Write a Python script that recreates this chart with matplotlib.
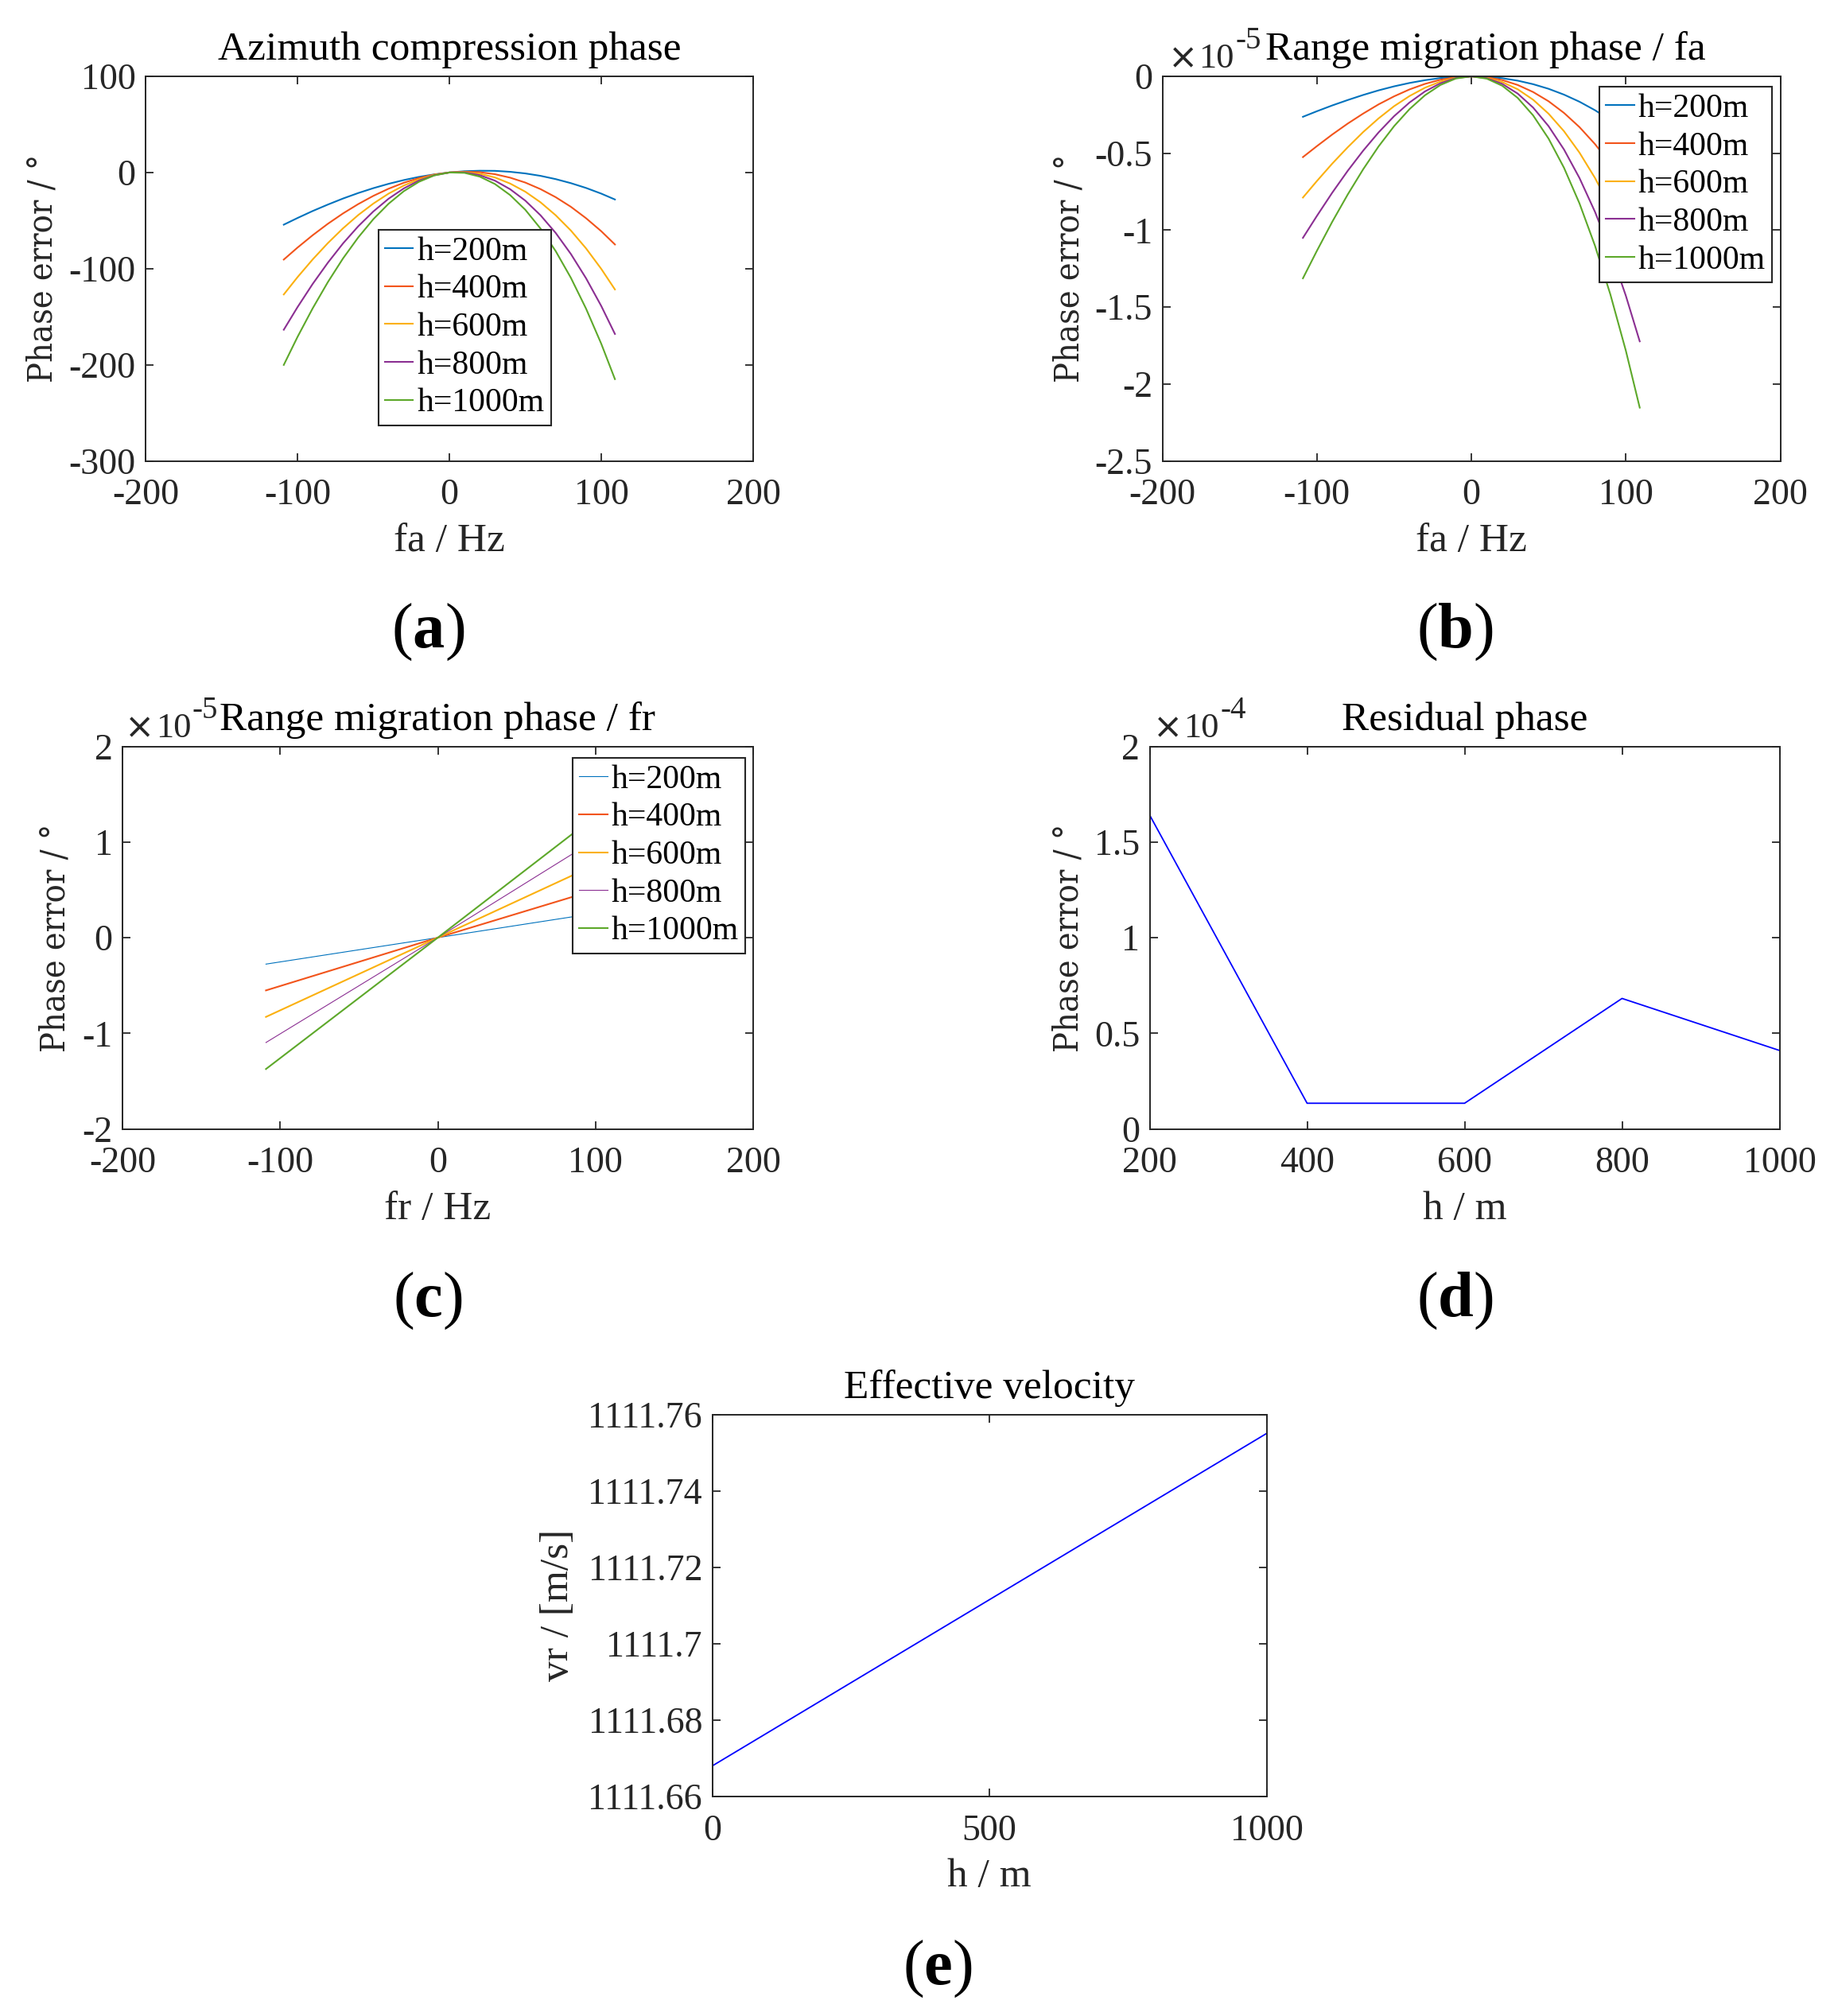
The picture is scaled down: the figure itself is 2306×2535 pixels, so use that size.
import matplotlib
matplotlib.use('Agg')
import matplotlib.pyplot as plt
from matplotlib.ticker import FuncFormatter
from matplotlib.text import Annotation
from matplotlib import font_manager

# ---------------- data ----------------
heights = ['h=200m', 'h=400m', 'h=600m', 'h=800m', 'h=1000m']
colors = ['#0072BD', '#F2541B', '#FBB00E', '#8B2F92', '#5DA82A']

fa = [-109, -100, -90, -80, -70, -60, -50, -40, -30, -20, -10, 0,
      10, 20, 30, 40, 50, 60, 70, 80, 90, 100, 109]

# (a) azimuth compression phase error (deg)
az_200 = [-54.3, -47.4, -40.1, -33.4, -27.1, -21.4, -16.3, -11.8, -7.9, -4.6, -2.0, 0.0,
          1.3, 1.8, 1.7, 0.7, -1.0, -3.5, -6.9, -11.1, -16.1, -22.0, -28.1]
az_400 = [-90.6, -78.2, -65.3, -53.4, -42.6, -32.9, -24.3, -16.9, -10.7, -5.8, -2.2, 0.0,
          0.8, 0.3, -1.8, -5.4, -10.5, -17.3, -25.7, -35.7, -47.6, -61.1, -74.9]
az_600 = [-126.9, -109.0, -90.5, -73.5, -58.1, -44.3, -32.3, -22.0, -13.6, -7.1, -2.5, 0.0,
          0.4, -1.3, -5.2, -11.5, -20.0, -31.0, -44.5, -60.4, -79.0, -100.3, -121.7]
az_800 = [-163.6, -140.2, -116.0, -93.9, -73.8, -56.0, -40.5, -27.3, -16.6, -8.4, -2.9, 0.0,
          0.1, -2.8, -8.5, -17.4, -29.3, -44.5, -62.9, -84.8, -110.1, -138.9, -168.0]
az_1000 = [-200.2, -171.2, -141.4, -114.1, -89.4, -67.6, -48.5, -32.5, -19.5, -9.7, -3.1, 0.0,
           -0.4, -4.3, -12.0, -23.5, -38.8, -58.3, -81.8, -109.6, -141.7, -178.2, -215.0]

# (b) range migration phase vs fa (x1e-5 deg)
rm_200 = [-0.263, -0.227, -0.189, -0.154, -0.121, -0.091, -0.065, -0.043, -0.025, -0.011, -0.003, 0.0,
          -0.003, -0.012, -0.028, -0.051, -0.081, -0.119, -0.165, -0.220, -0.284, -0.357, -0.431]
rm_400 = [-0.525, -0.454, -0.378, -0.307, -0.242, -0.182, -0.130, -0.085, -0.049, -0.022, -0.006, 0.0,
          -0.006, -0.024, -0.056, -0.102, -0.162, -0.238, -0.330, -0.440, -0.567, -0.713, -0.862]
rm_600 = [-0.788, -0.681, -0.567, -0.461, -0.362, -0.273, -0.194, -0.128, -0.074, -0.034, -0.008, 0.0,
          -0.009, -0.037, -0.084, -0.152, -0.243, -0.357, -0.496, -0.660, -0.851, -1.070, -1.292]
rm_800 = [-1.050, -0.908, -0.756, -0.614, -0.483, -0.364, -0.259, -0.170, -0.098, -0.045, -0.011, 0.0,
          -0.012, -0.049, -0.112, -0.203, -0.324, -0.476, -0.661, -0.880, -1.134, -1.426, -1.723]
rm_1000 = [-1.313, -1.135, -0.945, -0.768, -0.604, -0.455, -0.324, -0.213, -0.123, -0.056, -0.014, 0.0,
           -0.015, -0.061, -0.140, -0.254, -0.405, -0.595, -0.826, -1.100, -1.418, -1.783, -2.154]

# (c) range migration phase vs fr (x1e-5 deg)
fr = [-109, 0, 109]
rf_200 = [-0.277, 0.0, 0.278]
rf_400 = [-0.552, 0.0, 0.544]
rf_600 = [-0.829, 0.0, 0.831]
rf_800 = [-1.097, 0.0, 1.117]
rf_1000 = [-1.374, 0.0, 1.385]

# (d) residual phase (x1e-4 deg)
h_res = [200, 400, 600, 800, 1000]
res_phase = [1.641, 0.134, 0.134, 0.682, 0.410]

# (e) effective velocity
h_vel = [0, 1000]
vr = [1111.668, 1111.755]

# ---------------- style ----------------
W, H = 2306, 2535
plt.rcParams['font.family'] = ['Liberation Serif', 'DejaVu Serif']
plt.rcParams['mathtext.fontset'] = 'custom'
plt.rcParams['mathtext.rm'] = 'Liberation Serif'
plt.rcParams['mathtext.bf'] = 'Liberation Serif:bold'
plt.rcParams['axes.unicode_minus'] = False

has_cond = any(f.name == 'DejaVu Serif' and f.stretch == 'condensed'
               for f in font_manager.fontManager.ttflist)
PH_SIZE = 31 if has_cond else 28
PH_STRETCH = 'condensed' if has_cond else 'normal'

fig = plt.figure(figsize=(W / 100, H / 100), dpi=100)
DARK = '#262626'
fmt = FuncFormatter(lambda v, p: '%g' % v)


def make_ax(box):
    x0, y0, x1, y1 = box
    return fig.add_axes([x0 / W, 1 - y1 / H, (x1 - x0) / W, (y1 - y0) / H])


def style(ax, xlim, ylim, xticks, yticks):
    ax.set_xlim(*xlim)
    ax.set_ylim(*ylim)
    ax.set_xticks(xticks)
    ax.set_yticks(yticks)
    ax.xaxis.set_major_formatter(fmt)
    ax.yaxis.set_major_formatter(fmt)
    ax.tick_params(which='both', direction='in', top=True, right=True, length=7,
                   width=1.3, colors=DARK, labelsize=33)
    ax.tick_params(axis='x', pad=16)
    ax.tick_params(axis='y', pad=9)
    for s in ax.spines.values():
        s.set_linewidth(1.4)
        s.set_color(DARK)


def labels(ax, box, title, xl, yl, ylab_cx, phase_font=False, title_x=0.5):
    x0, y0, x1, y1 = box
    t = ax.set_title(title, fontsize=37, pad=15, color='black')
    t.set_x(title_x)
    ax.set_xlabel(xl, fontsize=37, color=DARK)
    ax.xaxis.set_label_coords(0.5, -113 / (y1 - y0))
    ax.xaxis.label.set_va('baseline')
    if phase_font:
        ax.set_ylabel(yl, fontsize=PH_SIZE, color=DARK, family='DejaVu Serif',
                      fontstretch=PH_STRETCH)
    else:
        ax.set_ylabel(yl, fontsize=37, color=DARK)
    ax.yaxis.set_label_coords(-(x0 - ylab_cx) / (x1 - x0), 0.5)
    ax.yaxis.label.set_va('center')


def legend(ax, anchor):
    leg = ax.legend(loc='upper left', bbox_to_anchor=anchor, fontsize=30, frameon=True,
                    fancybox=False, framealpha=1, edgecolor=DARK, borderpad=0.2,
                    labelspacing=0.22, handlelength=0.85, handletextpad=0.12,
                    borderaxespad=0)
    leg.get_frame().set_linewidth(1.5)


def expo(box, exp, dx):
    x0, y0, x1, y1 = box
    t = fig.text((x0 + dx) / W, 1 - (y0 - 10) / H, '\u00d7', fontsize=32,
                 family='DejaVu Sans', ha='left', va='baseline', color=DARK)
    ten = Annotation('10', xy=(1, 0), xycoords=t, xytext=(1, 7.3),
                     textcoords='offset points', fontsize=32, ha='left',
                     va='baseline', color=DARK)
    fig.add_artist(ten)
    ann = Annotation(exp, xy=(1, 0), xycoords=ten, xytext=(1, 24),
                     textcoords='offset points', fontsize=28, ha='left',
                     va='baseline', color=DARK)
    fig.add_artist(ann)


BOX_A = (183, 96, 947, 579.5)
BOX_B = (1461.5, 96, 2238.5, 579.5)
BOX_C = (154, 938.5, 947, 1419.5)
BOX_D = (1445.5, 938.5, 2237.5, 1419.5)
BOX_E = (895.5, 1778.5, 1592.5, 2259)

PH = 'Phase error / \u00b0'

# (a)
axa = make_ax(BOX_A)
for lab, col, ser in zip(heights, colors, [az_200, az_400, az_600, az_800, az_1000]):
    axa.plot(fa, ser, color=col, lw=1.5, label=lab)
style(axa, (-200, 200), (-300, 100), [-200, -100, 0, 100, 200], [-300, -200, -100, 0, 100])
labels(axa, BOX_A, 'Azimuth compression phase', 'fa / Hz', PH, 53.5, phase_font=True)
legend(axa, (0.383, 0.6015))

# (b)
axb = make_ax(BOX_B)
for lab, col, ser in zip(heights, colors, [rm_200, rm_400, rm_600, rm_800, rm_1000]):
    axb.plot(fa, ser, color=col, lw=1.5, label=lab)
style(axb, (-200, 200), (-2.5, 0), [-200, -100, 0, 100, 200], [-2.5, -2, -1.5, -1, -0.5, 0])
labels(axb, BOX_B, 'Range migration phase / fa', 'fa / Hz', PH, 1344.5, phase_font=True,
       title_x=0.523)
legend(axb, (0.707, 0.973))
expo(BOX_B, '-5', 7)

# (c)
axc = make_ax(BOX_C)
lws_c = [0.8, 1.5, 1.5, 0.8, 1.5]
for lab, col, ser, lw in zip(heights, colors, [rf_200, rf_400, rf_600, rf_800, rf_1000], lws_c):
    axc.plot(fr, ser, color=col, lw=lw, label=lab)
style(axc, (-200, 200), (-2, 2), [-200, -100, 0, 100, 200], [-2, -1, 0, 1, 2])
labels(axc, BOX_C, 'Range migration phase / fr', 'fr / Hz', PH, 69.6, phase_font=True)
legend(axc, (0.7136, 0.970))
expo(BOX_C, '-5', 3)

# (d)
axd = make_ax(BOX_D)
axd.plot(h_res, res_phase, color='#0000FF', lw=1.3)
style(axd, (200, 1000), (0, 2), [200, 400, 600, 800, 1000], [0, 0.5, 1, 1.5, 2])
labels(axd, BOX_D, 'Residual phase', 'h / m', PH, 1343, phase_font=True)
expo(BOX_D, '-4', 4)

# (e)
axe = make_ax(BOX_E)
axe.plot(h_vel, vr, color='#0000FF', lw=1.3)
style(axe, (0, 1000), (1111.66, 1111.76), [0, 500, 1000],
      [1111.66, 1111.68, 1111.70, 1111.72, 1111.74, 1111.76])
labels(axe, BOX_E, 'Effective velocity', 'h / m', 'vr / [m/s]', 701.4)

# panel letters
for txt, (px, py) in zip(['a', 'b', 'c', 'd', 'e'],
                         [(538, 795), (1829, 795), (538, 1636), (1829, 1636), (1179, 2476)]):
    fig.text(px / W, 1 - py / H, '($\\mathbf{%s}$)' % txt, fontsize=58, ha='center', va='center',
             color='black')

fig.savefig('out.png', dpi=100, facecolor='white')
